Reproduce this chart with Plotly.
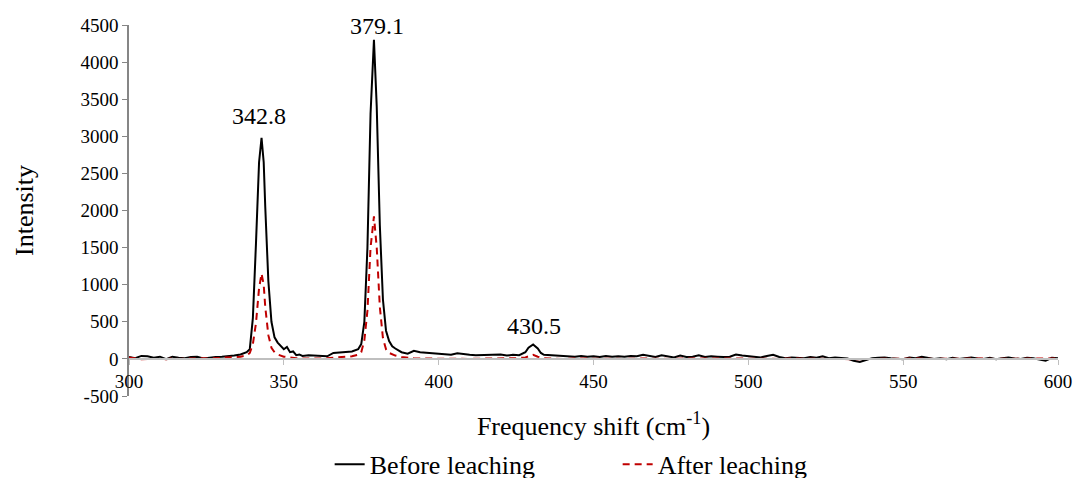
import plotly.graph_objects as go

# Before leaching (black)
before_x = [300, 302, 304, 306, 308, 310, 312, 314, 316, 318, 320, 322, 324, 326, 328, 330, 332, 334, 336, 338,
            339, 340, 341, 342, 342.8, 343.5, 344, 345, 346, 347, 348, 349, 350, 351, 352, 353, 354, 355, 356, 358,
            360, 362, 364, 366, 368, 370, 372, 374, 375, 376, 377, 378, 379.1, 380, 381, 382, 383, 384, 385, 386,
            388, 390, 392, 394, 396, 398, 400, 402, 404, 406, 408, 410, 412, 414, 416, 418, 420, 422, 424, 426,
            428, 429, 430.5, 432, 433, 434, 436, 438, 440, 442, 444, 446, 448, 450, 452, 454, 456, 458, 460, 462,
            464, 466, 468, 470, 472, 474, 476, 478, 480, 482, 484, 486, 488, 490, 492, 494, 496, 498, 500, 502,
            504, 506, 508, 510, 512, 514, 516, 518, 520, 522, 524, 526, 528, 530, 532, 534, 536, 538, 540, 542,
            544, 546, 548, 550, 552, 554, 556, 558, 560, 562, 564, 566, 568, 570, 572, 574, 576, 578, 580, 582,
            584, 586, 588, 590, 592, 594, 596, 598, 600]
before_y = [25, 10, 40, 35, 15, 30, -5, 30, 15, 10, 25, 30, 5, 20, 25, 30, 35, 45, 60, 90,
            130, 550, 1550, 2650, 2980, 2650, 2050, 1050, 500, 290, 220, 180, 130, 160, 90, 100, 50, 60, 40, 50,
            45, 40, 35, 80, 90, 90, 100, 130, 200, 500, 1500, 3300, 4300, 3400, 1800, 800, 380, 240, 170, 140,
            90, 70, 110, 90, 85, 75, 75, 70, 55, 75, 60, 55, 50, 50, 55, 50, 60, 45, 55, 50,
            90, 150, 195, 140, 80, 55, 50, 45, 45, 40, 30, 40, 30, 35, 25, 40, 30, 35, 30, 40,
            35, 55, 45, 25, 50, 30, 20, 45, 25, 30, 50, 25, 35, 30, 25, 30, 60, 45, 35, 30,
            20, 40, 55, 25, 10, 20, 15, 10, 25, 15, 35, 10, 20, 15, 5, -25, -40, -15, 10, 15,
            20, 10, 5, -5, 20, 10, 30, 10, 0, 10, -5, 15, 0, 10, 20, 5, 0, 15, -5, 10,
            20, 5, 0, 15, 10, -10, -25, 15, 10]

# After leaching (red dashed)
after_x = [300, 302, 304, 306, 308, 310, 312, 314, 316, 318, 320, 322, 324, 326, 328, 330, 332, 334, 336, 338,
           339, 340, 341, 342, 342.8, 343.5, 344, 345, 346, 347, 348, 350, 352, 354, 356, 358, 360, 362, 364, 366,
           368, 370, 372, 374, 375, 376, 377, 378, 379.1, 380, 381, 382, 383, 384, 386, 388, 390, 392, 395, 400,
           405, 410, 415, 420, 425, 428, 429.5, 430.5, 432, 434, 436, 440, 445, 450, 455, 460, 465, 470, 475, 480,
           485, 490, 495, 500, 505, 510, 515, 520, 525, 530, 535, 540, 545, 550, 555, 560, 565, 570, 575, 580,
           585, 590, 595, 600]
after_y = [20, 5, -5, 0, 5, 0, -5, 5, 0, 5, 0, 5, 10, 5, 10, 15, 15, 20, 30, 45,
           80, 200, 480, 950, 1150, 1000, 700, 320, 150, 90, 60, 30, 15, 10, 5, 0, 5, 5, 10, 15,
           20, 25, 35, 55, 90, 250, 650, 1500, 1920, 1500, 700, 280, 130, 80, 45, 25, 15, 10, 5, 0,
           5, 0, 5, 5, 10, 20, 45, 55, 30, 10, 5, 0, 5, 0, 5, 0, 5, 0, 0, 5,
           0, 5, 5, 0, 5, 0, 5, 0, 5, 0, -5, 0, 5, 0, 5, 0, 5, 0, 5, 0,
           5, 0, 5, 5]

peak_x = [342.0, 380.1, 430.7]
peak_labels = ["342.8", "379.1", "430.5"]
label_y = [3280, 4480, 440]

x_ticks = [300, 350, 400, 450, 500, 550, 600]
y_ticks = [-500, 0, 500, 1000, 1500, 2000, 2500, 3000, 3500, 4000, 4500]
y_tick_text = ["-500", "0", "500", "1000", "1500", "2000", "2500", "3000", "3500", "4000", "4500"]

FONT = "'Liberation Serif', 'Times New Roman', Times, serif"

fig = go.Figure()
fig.add_trace(go.Scatter(x=before_x, y=before_y, mode="lines", name="Before leaching",
                         line=dict(color="#000000", width=2)))
fig.add_trace(go.Scatter(x=after_x, y=after_y, mode="lines", name="After leaching",
                         line=dict(color="#C00000", width=2, dash="7px,5px")))

for px, txt, ly in zip(peak_x, peak_labels, label_y):
    fig.add_annotation(x=px, y=ly, text=txt, showarrow=False, xref="x", yref="y",
                       font=dict(family=FONT, size=24, color="#000"))

fig.update_layout(
    width=1073, height=540,
    margin=dict(l=129, r=15, t=25, b=144),
    paper_bgcolor="white", plot_bgcolor="white",
    font=dict(family=FONT, color="#000"),
    showlegend=True,
    legend=dict(orientation="h", x=0.216, xanchor="left", y=-0.184, yanchor="middle",
                font=dict(family=FONT, size=26), entrywidth=243),
    xaxis=dict(range=[300, 600], tickvals=x_ticks, showgrid=False, zeroline=False, automargin=False,
               anchor="free", position=0.1, showline=True, linecolor="#bfbfbf", linewidth=2,
               ticks="outside", ticklen=5, tickcolor="#bfbfbf", tickfont=dict(family=FONT, size=19),
               title=dict(text="Frequency shift (cm<sup>-1</sup>)", font=dict(family=FONT, size=26), standoff=25)),
    yaxis=dict(range=[-500, 4500], tickvals=y_ticks, ticktext=y_tick_text, showgrid=False, zeroline=False,
               automargin=False,
               showline=True, linecolor="#868686", linewidth=1.5,
               ticks="outside", ticklen=5, tickcolor="#868686", tickfont=dict(family=FONT, size=19),
               title=dict(text="Intensity", font=dict(family=FONT, size=26), standoff=39)),
)

fig.write_html(
    "out.html",
    config={"displayModeBar": False},
    post_script=(
        "document.documentElement.style.margin='0';"
        "document.body.style.margin='0';"
        "document.body.style.overflow='hidden';"
        "var gd=document.getElementById('{plot_id}');"
        "gd.parentElement.style.height='478px';"
        "gd.parentElement.style.overflow='hidden';"
    ),
)
